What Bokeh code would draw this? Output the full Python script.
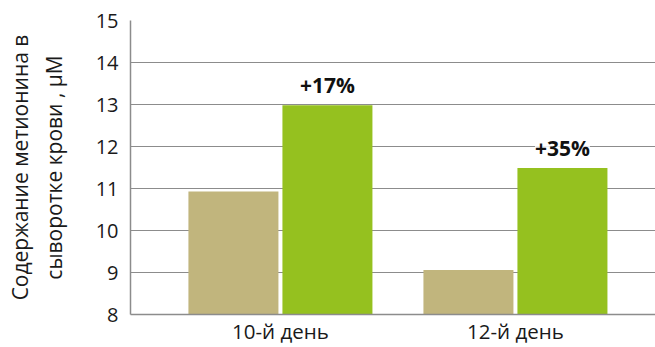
from bokeh.plotting import figure
from bokeh.models import ColumnDataSource, FixedTicker, Range1d, LabelSet
from bokeh.core.properties import value
from bokeh.embed import file_html
from bokeh.resources import INLINE

categories = ["10-й день", "12-й день"]
control = [10.93, 9.06]
treated = [12.98, 11.49]
changes = ["+17%", "+35%"]
y_ticks = [8, 9, 10, 11, 12, 13, 14, 15]

FONT = "Open Sans"
idx = [i + 0.5 for i in range(len(categories))]

src_c = ColumnDataSource(dict(x=[v - 0.2 for v in idx], top=control))
src_t = ColumnDataSource(dict(x=[v + 0.2 for v in idx], top=treated, lab=changes))

p = figure(width=655, height=347, output_backend="svg", toolbar_location=None,
           x_range=Range1d(-0.138, 2.096), y_range=Range1d(8, 15),
           min_border_left=130, min_border_right=0, min_border_top=20, min_border_bottom=0)
p.outline_line_color = None
p.background_fill_color = "white"

p.vbar(x="x", top="top", bottom=8, width=0.383, source=src_c, color="#C1B57D", line_color=None)
p.vbar(x="x", top="top", bottom=8, width=0.383, source=src_t, color="#95C11F", line_color=None)

labels = LabelSet(x="x", y="top", text="lab", source=src_t, text_align="center",
                  text_baseline="alphabetic", y_offset=12, text_font=value(FONT),
                  text_font_style="bold", text_font_size="21px", text_color="#111111",
                  background_fill_color="white", background_fill_alpha=0.85)
p.add_layout(labels)

p.xaxis.ticker = FixedTicker(ticks=idx)
p.xaxis.major_label_overrides = {v: c for v, c in zip(idx, categories)}
p.yaxis.ticker = FixedTicker(ticks=y_ticks)

for ax in (p.xaxis, p.yaxis):
    ax.major_tick_line_color = None
    ax.minor_tick_line_color = None
    ax.major_tick_out = 0
    ax.major_tick_in = 0
    ax.axis_line_color = "#8c8c8c"
    ax.axis_line_width = 1.5
    ax.major_label_text_font = FONT
    ax.major_label_text_color = "#1a1a1a"

p.xaxis.major_label_text_font_size = "20.5px"
p.xaxis.major_label_standoff = 2
p.yaxis.major_label_text_font_size = "20px"
p.yaxis.major_label_standoff = 12
p.yaxis.axis_label = "Содержание метионина в\nсыворотке крови , μМ"
p.yaxis.axis_label_text_font = FONT
p.yaxis.axis_label_text_font_size = "21px"
p.yaxis.axis_label_text_font_style = "normal"
p.yaxis.axis_label_text_color = "#1a1a1a"
p.yaxis.axis_label_standoff = 25

p.xgrid.grid_line_color = None
p.ygrid.grid_line_color = "#8c8c8c"
p.ygrid.grid_line_width = 1.2
p.ygrid.level = "underlay"

open("out.html", "w").write(file_html(p, INLINE))
